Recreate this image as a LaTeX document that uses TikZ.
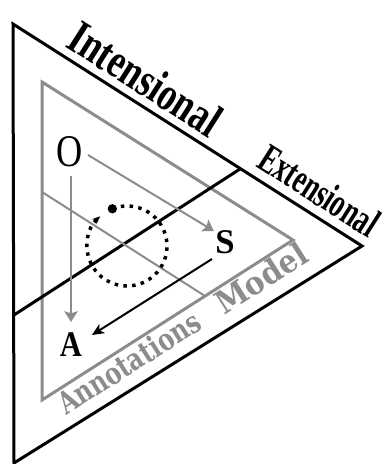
\documentclass[tikz,border=0pt]{standalone}
\usepackage{fontspec}
\usepackage{graphicx}
\setmainfont{Liberation Serif}
\newfontfamily\djs{DejaVu Serif}
\usetikzlibrary{arrows.meta,calc}
\definecolor{mygray}{RGB}{140,140,140}
\tikzset{
  blk/.style={line width=2.25pt, black},
  gry/.style={line width=2.25pt, mygray},
  thin gray/.style={line width=1.5pt, mygray},
  garrow/.style={line width=1.5pt, mygray, -{Stealth[length=8pt,width=10pt,inset=1.5pt]}},
  barrow/.style={line width=1.5pt, black, -{Stealth[length=9pt,width=8pt,inset=2.5pt]}},
  loopline/.style={line width=2.6pt, dash pattern=on 2.6pt off 4pt, -{Stealth[length=6pt,width=5pt]}},
  biglabel/.style={rotate=-32.5, anchor=base west, inner sep=0pt},
  graylabel/.style={rotate=32.5, anchor=base west, inner sep=0pt, text=mygray},
  letter/.style={inner sep=0pt}
}
\begin{document}
\begin{tikzpicture}[x=0.75pt,y=-0.75pt]
\useasboundingbox (0,0) rectangle (384,464);
% outer triangle
\coordinate (T1) at (13,24);
\coordinate (T2) at (362,246);
\coordinate (T3) at (14,463);
\draw[blk] (T1) -- (T2) -- (T3) -- cycle;
% gray triangle
\coordinate (G1) at (42,82);
\coordinate (G2) at (293,240);
\coordinate (G3) at (42,400);
\draw[gry] (G1) -- (G2) -- (G3) -- cycle;
% divider
\coordinate (D1) at (240,169);
\coordinate (D2) at (14,315);
\draw[blk] (D1) -- (D2);
% inner gray line
\coordinate (L1) at (42,192);
\coordinate (L2) at (205,296);
\draw[thin gray] (L1) -- (L2);
% labels on edges
\node[biglabel] (int) at (64,46) {\fontsize{36}{36}\selectfont\bfseries\scalebox{0.75}[1]{Intensional}};
\node[biglabel] (ext) at (255,166) {\fontsize{31}{31}\selectfont\bfseries\scalebox{0.65}[1]{Extensional}};
\node[graylabel] (ann) at (66,416) {\djs\bfseries\fontsize{23}{23}\selectfont\scalebox{0.78}[1]{Annotations}};
\node[graylabel] (mod) at (224,316) {\djs\bfseries\fontsize{24}{24}\selectfont\scalebox{0.92}[1]{Model}};
% letters
\node[letter] (O) at (70,152) {\fontsize{34}{34}\selectfont\scalebox{0.8}[1]{O}};
\node[letter] (S) at (225,242) {\fontsize{26}{26}\selectfont\bfseries S};
\node[letter] (A) at (71,345) {\fontsize{27}{27}\selectfont\bfseries\scalebox{0.85}[1]{A}};
% arrows
\coordinate (os1) at (88,155);
\coordinate (os2) at (214,231);
\draw[garrow] (os1) -- (os2);
\coordinate (oa1) at (71,176);
\coordinate (oa2) at (71,322);
\draw[garrow] (oa1) -- (oa2);
\coordinate (sa1) at (212,259);
\coordinate (sa2) at (92,335);
\draw[barrow] (sa1) -- (sa2);
% loop
\coordinate (C) at (127,246);
\draw[loopline] (C) ++(248.5:40) arc[start angle=248.5, end angle=588, radius=40];
\node[circle, fill=black, inner sep=0pt, minimum size=7pt] (dot) at ($(C)+(248.5:40)$) {};
\end{tikzpicture}
\end{document}
